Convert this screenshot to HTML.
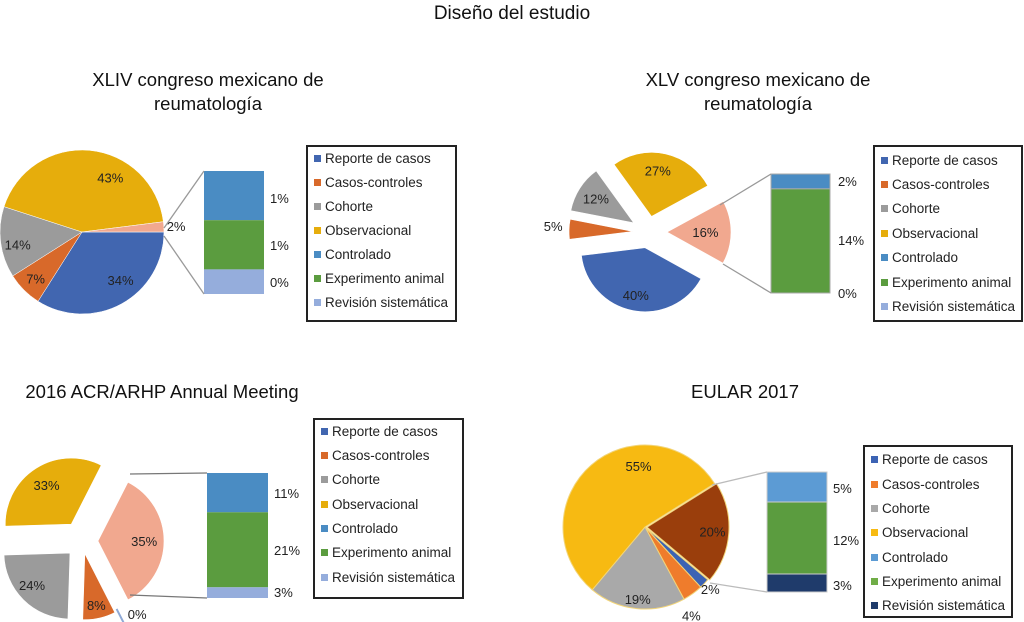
<!DOCTYPE html>
<html><head><meta charset="utf-8">
<style>
body{margin:0;background:#fff;font-family:"Liberation Sans",sans-serif;}
#root{position:relative;width:1024px;height:622px;overflow:hidden;}
.t{position:absolute;text-align:center;color:#111;font-size:18.5px;line-height:24px;}
.legend{position:absolute;border:2px solid #222;box-sizing:border-box;background:#fff;}
.li{position:absolute;left:6px;font-size:13.5px;color:#222;white-space:nowrap;}
.li span{display:inline-block;width:7px;height:7px;margin-right:4px;vertical-align:1px;}
svg{position:absolute;left:0;top:0;}
svg text{font-family:"Liberation Sans",sans-serif;font-size:13px;fill:#222;}
</style></head><body>
<div id="root">
<div class="t" style="left:362px;top:2px;width:300px;font-size:19px">Diseño del estudio</div>
<div class="t" style="left:58px;top:68px;width:300px">XLIV congreso mexicano de<br>reumatología</div>
<div class="t" style="left:608px;top:68px;width:300px">XLV congreso mexicano de<br>reumatología</div>
<div class="t" style="left:2px;top:380px;width:320px">2016 ACR/ARHP Annual Meeting</div>
<div class="t" style="left:645px;top:380px;width:200px">EULAR 2017</div>
<svg id="svg" width="1024" height="622"></svg>
</div>
<script>
const legendLabels = ["Reporte de casos","Casos-controles","Cohorte","Observacional","Controlado","Experimento animal","Revisión sistemática"];
// pie slice order (clockwise from start angle)
const pie1Values = [34, 7, 14, 43, 2];
const pie1Labels = ["34%","7%","14%","43%","2%"];
const bar1Values = [1, 1, 0.5];
const bar1Labels = ["1%","1%","0%"];
const pie2Values = [40, 5, 12, 27, 16];
const pie2Labels = ["40%","5%","12%","27%","16%"];
const bar2Values = [2, 14, 0];
const bar2Labels = ["2%","14%","0%"];
const pie3Values = [0, 8, 24, 33, 35];
const pie3Labels = ["0%","8%","24%","33%","35%"];
const bar3Values = [11, 21, 3];
const bar3Labels = ["11%","21%","3%"];
const pie4Values = [2, 4, 19, 55, 20];
const pie4Labels = ["2%","4%","19%","55%","20%"];
const bar4Values = [5, 12, 3];
const bar4Labels = ["5%","12%","3%"];

const C = {rep:"#4166b0",cas:"#d8692a",coh:"#9b9b9b",obs:"#e6ad0c",con:"#4a8cc3",exp:"#5b9c3f",rev:"#95addc",oth:"#f1a88f"};
const svg = document.getElementById('svg');
const NS = "http://www.w3.org/2000/svg";
function mk(tag, attrs, name){const e=document.createElementNS(NS,tag);for(const k in attrs)e.setAttribute(k,attrs[k]);


svg.appendChild(e);return e;}
const rad = d=>d*Math.PI/180;

function drawPie(id, vals, labs, cfg){
  const tot = vals.reduce((a,b)=>a+b,0);
  let a = cfg.start; const out=[];
  vals.forEach((v,i)=>{
    const sw = v/tot*360, a0=a, a1=a+sw; a=a1;
    const mid=(a0+a1)/2, ex=cfg.explode[i];
    const cx=cfg.cx+ex*Math.cos(rad(mid)), cy=cfg.cy+ex*Math.sin(rad(mid));
    const r=cfg.r;
    const x0=cx+r*Math.cos(rad(a0)), y0=cy+r*Math.sin(rad(a0)), x1=cx+r*Math.cos(rad(a1)), y1=cy+r*Math.sin(rad(a1));
    let d;
    if(sw<0.5){ const rs=cfg.zeroStart||0; d=`M${cx+rs*r*Math.cos(rad(a0))},${cy+rs*r*Math.sin(rad(a0))}L${x0},${y0}`; mk('path',{d,stroke:cfg.colors[i],'stroke-width':2,fill:'none'},id+'-slice-'+i);}
    else { d=`M${cx},${cy}L${x0},${y0}A${r},${r} 0 ${sw>180?1:0} 1 ${x1},${y1}Z`;
      mk('path',{d,fill:cfg.colors[i],stroke:cfg.stroke||'#fff','stroke-width':cfg.sw||0.6},id+'-slice-'+i);}
    const lf=cfg.lab[i], la=mid+(cfg.labA?cfg.labA[i]:0);
    const t=mk('text',{x:cx+lf*r*Math.cos(rad(la)),y:cy+lf*r*Math.sin(rad(la))+5,'text-anchor':'middle'},id+'-label-'+i);
    t.textContent=labs[i];
    out.push({cx,cy,a0,a1,r});
  });
  return out;
}
function drawBar(id, vals, labs, cfg){
  const tot=vals.reduce((a,b)=>a+b,0); let y=cfg.y;
  const cols=[cfg.c0||C.con,C.exp,cfg.c2||C.rev];
  vals.forEach((v,i)=>{
    const h=v/tot*cfg.h;
    if(h>0) mk('rect',{x:cfg.x,y,width:cfg.w,height:h,fill:cols[i],stroke:cfg.st||'none','stroke-width':1},id+'-seg-'+i);
    const t=mk('text',{x:cfg.x+cfg.w+(cfg.lx||6),y:(cfg.ly?cfg.ly[i]:y+h/2+5),'text-anchor':'start'},id+'-value-'+i);
    t.textContent=labs[i]; y+=h;
  });
}
function conn(id,p,q,col){mk('line',{x1:p[0],y1:p[1],x2:q[0],y2:q[1],stroke:col||'#999','stroke-width':1.3},id);}
function legend(id,x,y,w,h,ys,cols){
  const d=document.createElement('div');d.className='legend';
  
  
  d.style.cssText=`left:${x}px;top:${y}px;width:${w}px;height:${h}px`;
  legendLabels.forEach((l,i)=>{const e=document.createElement('div');e.className='li';
    
    
    e.style.top=(ys[i]-y-14)+'px';e.innerHTML=`<span style="background:${cols[i]}"></span>${l}`;d.appendChild(e);});
  document.getElementById('root').appendChild(d);
}
const baseCols=[C.rep,C.cas,C.coh,C.obs,C.con,C.exp,C.rev];

// Chart 1
drawPie('pie1',pie1Values,pie1Labels,{cx:82,cy:232,r:82,start:0,explode:[0,0,0,0,0],
  colors:[C.rep,C.cas,C.coh,C.obs,C.oth],lab:[0.75,0.8,0.8,0.75,1.15],labA:[-10,0,-4,22,0],sw:0.5});
drawBar('bar1',bar1Values,bar1Labels,{x:204,y:171,w:60,h:123,ly:[203,250,287]});
conn('connector1-top',[164,228],[204,171]);conn('connector1-bottom',[164,236],[204,294]);
legend('legend1',306,145,151,177,[163,187,211,235,259,283,307],baseCols);

// Chart 2
drawPie('pie2',pie2Values,pie2Labels,{cx:648,cy:232,r:64,start:29,explode:[16,15,17,16,19],
  colors:[C.rep,C.cas,C.coh,C.obs,C.oth],lab:[0.75,1.25,0.7,0.72,0.6],labA:[0,2,0,-5,0]});
drawBar('bar2',bar2Values,bar2Labels,{x:771,y:174,w:59,h:119,lx:8,ly:[186,245,298],st:'#aaa'});
conn('connector2-top',[720,205],[771,174]);conn('connector2-bottom',[723,264],[771,293]);
legend('legend2',873,145,150,177,[165,189,213,238,262,287,311],baseCols);

// Chart 3
drawPie('pie3',pie3Values,pie3Labels,{cx:82,cy:541,r:66,start:63,explode:[30,13,17,20,16],zeroStart:0.7,
  colors:["#8fa9d6",C.cas,C.coh,C.obs,C.oth],lab:[0.94,0.8,0.75,0.7,0.7],labA:[-15,0,5,0,0]});
drawBar('bar3',bar3Values,bar3Labels,{x:207,y:473,w:61,h:125,ly:[498,555,597]});
conn('connector3-top',[130,474],[207,473],'#777');conn('connector3-bottom',[130,595],[207,598],'#777');
legend('legend3',313,418,151,181,[436,460,484,509,533,557,582],baseCols);

// Chart 4
drawPie('pie4',pie4Values,pie4Labels,{cx:645,cy:527,r:82,start:40,explode:[0,0,0,0,2],
  colors:["#3c63b4","#ef7c2c","#a9a9a9","#f7ba12","#9a3e0c"],lab:[1.1,1.22,0.88,0.75,0.8],labA:[0,8,0,35,0],stroke:'#f2d57a',sw:1});
drawBar('bar4',bar4Values,bar4Labels,{x:767,y:472,w:60,h:120,lx:6,ly:[493,545,590],c0:"#5c9bd4",c2:"#1f3b6b",st:'#ccc'});
conn('connector4-top',[712,485],[767,472],'#bbb');conn('connector4-bottom',[710,583],[767,592],'#bbb');
legend('legend4',863,445,150,173,[464,489,513,537,562,586,610],["#3c63b4","#ef7c2c","#a9a9a9","#f7ba12","#5c9bd4","#70ad47","#1f3b6b"]);
</script>
</body></html>
